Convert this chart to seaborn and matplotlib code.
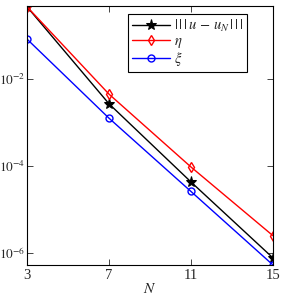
# convergence plot: error and estimators vs N (log scale)

import numpy as np
import pandas as pd
import matplotlib
matplotlib.use("Agg")
import matplotlib.pyplot as plt
import matplotlib.ticker as mticker
import seaborn as sns

N = [3, 7, 11, 15]
err = [0.46, 2.7e-3, 4.3e-5, 7.7e-7]
eta = [0.46, 4.5e-3, 9.5e-5, 2.5e-6]
xi = [0.083, 1.26e-3, 2.6e-5, 5.3e-7]

labels = [r"$|\,|\,|\,u\,-\,u_N\,|\,|\,|$", r"$\eta$", r"$\xi$"]
cores = ["black", "red", "blue"]
marcadores = ["*", "d", "o"]

sns.set_style("ticks")
plt.rcParams["font.family"] = ["Liberation Serif", "DejaVu Serif"]
plt.rcParams["mathtext.fontset"] = "stix"

fig = plt.figure(figsize=(2.83, 2.97), dpi=100)
ax = fig.add_axes([0.0954, 0.1077, 0.8693, 0.8723])

series = [err, eta, xi]
for vals, lab, cor, mk in zip(series, labels, cores, marcadores):
    df = pd.DataFrame({"N": N, "v": vals})
    if mk == "*":
        sns.lineplot(data=df, x="N", y="v", ax=ax, color=cor, marker=mk, markersize=8,
                     markeredgecolor=cor, markerfacecolor=cor, lw=1.0, label=lab)
    else:
        sns.lineplot(data=df, x="N", y="v", ax=ax, color=cor, marker=mk, markersize=5,
                     markeredgecolor=cor, markerfacecolor="none", markeredgewidth=1.0,
                     lw=1.0, label=lab)

ax.set_yscale("log")
ax.set_xlim(3, 15)
ax.set_ylim(5.3e-7, 0.48)
ax.set_xticks(N)
ax.set_xticklabels([str(n) for n in N])
ax.yaxis.set_major_locator(mticker.FixedLocator([1e-6, 1e-4, 1e-2]))
ax.yaxis.set_minor_locator(mticker.NullLocator())
ax.set_yticklabels([r"$10^{-6}$", r"$10^{-4}$", r"$10^{-2}$"])
ax.tick_params(direction="in", length=4, width=0.6, top=True, right=True, pad=3)
ax.tick_params(axis="x", labelsize=10.5)
ax.tick_params(axis="y", labelsize=9.5, pad=1.5)
for s in ax.spines.values():
    s.set_color("black")
    s.set_linewidth(0.8)
ax.set_xlabel(r"$N$", fontsize=11, labelpad=0)
ax.set_ylabel("")

leg = ax.legend(loc="upper right", bbox_to_anchor=(0.894, 0.969), fontsize=10.5,
                borderaxespad=0, frameon=True, fancybox=False, edgecolor="black",
                framealpha=1, handlelength=2.6, borderpad=0.25, labelspacing=0.05,
                handletextpad=0.3)
leg.get_frame().set_linewidth(0.8)

fig.savefig("out.png", dpi=100)
